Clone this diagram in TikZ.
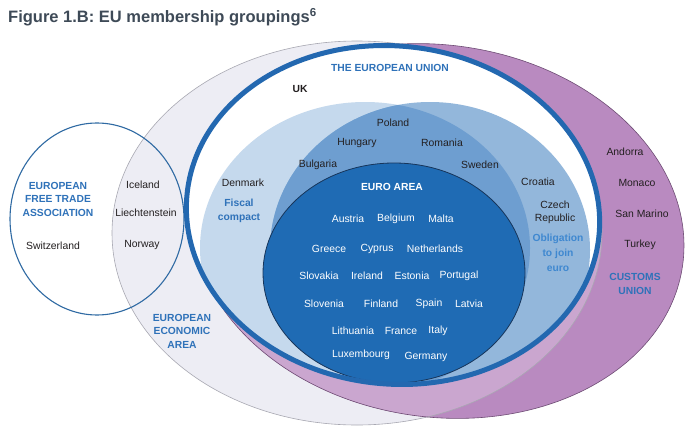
\documentclass[tikz,border=0pt]{standalone}
\usepackage{fontspec}
\setmainfont{Liberation Sans}
\usepackage{xcolor}
\definecolor{Title}{HTML}{3E4A57}
\definecolor{Ink}{HTML}{231F20}
\definecolor{EeaFill}{HTML}{EDEDF4}
\definecolor{EeaLine}{HTML}{A8A8B2}
\definecolor{CuFill}{HTML}{B98AC0}
\definecolor{CuLight}{HTML}{CAA6CF}
\definecolor{CuLine}{HTML}{6E4C74}
\definecolor{EftaLine}{HTML}{2F6AA3}
\definecolor{EuRing}{HTML}{2368B0}
\definecolor{FiscFill}{HTML}{C5D9ED}
\definecolor{ObligFill}{HTML}{93B7DB}
\definecolor{BothFill}{HTML}{6E9ED0}
\definecolor{EuroFill}{HTML}{1F6BB4}
\definecolor{EuroLine}{HTML}{17355A}
\definecolor{LabBlue}{HTML}{2F72B9}
\definecolor{LabLight}{HTML}{3F88D0}

\def\eeapath{(357,233) ellipse [x radius=245, y radius=192]}
\def\cupath{[rotate around={-8:(438,231)}] (438,231) ellipse [x radius=247, y radius=186]}
\def\eftapath{(97,219) ellipse [x radius=87, y radius=96]}
\def\eupath{[rotate around={-6:(393,215)}] (393,215) ellipse [x radius=207, y radius=169]}
\def\fiscpath{(365,248) ellipse [x radius=165, y radius=146]}
\def\obligpath{(430,250) ellipse [x radius=160, y radius=148]}
\def\europath{(394,273) ellipse [x radius=131, y radius=110]}

\begin{document}
\begin{tikzpicture}[x=1pt, y=-1pt, cty/.style={font=\fontsize{10.4}{12}\selectfont, text=Ink, inner sep=1pt}, ecty/.style={cty, text=white}, grp/.style={font=\bfseries\fontsize{10.3}{13.5}\selectfont, text=LabBlue, align=center, inner sep=1pt}]
\useasboundingbox[fill=white] (0,0) rectangle (695,428);
\node[anchor=base west, inner sep=0, text=Title, font=\bfseries\fontsize{16.5}{18}\selectfont] (title) at (8,23) {Figure 1.B: EU membership groupings\textsuperscript{6}};
\fill[EeaFill] \eeapath;
\fill[CuFill] \cupath;
\begin{scope} \clip \eeapath; \fill[CuLight] \cupath; \end{scope}
\draw[EeaLine, line width=0.6pt] \eeapath;
\draw[CuLine, line width=0.6pt] \cupath;
\draw[EftaLine, line width=1.1pt] \eftapath;
\fill[white] \eupath;
\begin{scope}
\clip \eupath;
\fill[FiscFill] \fiscpath;
\fill[ObligFill] \obligpath;
\begin{scope} \clip \fiscpath; \fill[BothFill] \obligpath; \end{scope}
\end{scope}
\filldraw[fill=EuroFill, draw=EuroLine, line width=0.8pt] \europath;
\draw[EuRing, line width=5pt] \eupath;
\node[grp] (efta) at (58,199) {EUROPEAN\\FREE TRADE\\ASSOCIATION};
\node[cty] (switz) at (53,246) {Switzerland};
\node[cty] (iceland) at (143,185) {Iceland};
\node[cty] (liecht) at (146,213) {Liechtenstein};
\node[cty] (norway) at (142,245) {Norway};
\node[grp] (eea) at (182,331) {EUROPEAN\\ECONOMIC\\AREA};
\node[grp] (eu) at (390,68) {THE EUROPEAN UNION};
\node[grp, text=Ink] (uk) at (300,89) {UK};
\node[cty] (poland) at (393,123) {Poland};
\node[cty] (hungary) at (357,143) {Hungary};
\node[cty] (romania) at (442,143) {Romania};
\node[cty] (bulgaria) at (318,165) {Bulgaria};
\node[cty] (sweden) at (480,165) {Sweden};
\node[cty] (denmark) at (243,183) {Denmark};
\node[grp, font=\bfseries\fontsize{10.3}{14}\selectfont] (fiscal) at (239,211) {Fiscal\\compact};
\node[cty] (croatia) at (538,182) {Croatia};
\node[cty, align=center, font=\fontsize{10.4}{13}\selectfont] (czech) at (555,212.5) {Czech\\Republic};
\node[grp, text=LabLight, font=\bfseries\fontsize{10.3}{15}\selectfont] (oblig) at (558,253) {Obligation\\to join\\euro};
\node[cty] (andorra) at (625,152) {Andorra};
\node[cty] (monaco) at (637,183) {Monaco};
\node[cty] (sanmarino) at (642,214) {San Marino};
\node[cty] (turkey) at (640,245) {Turkey};
\node[grp] (cu) at (635,284) {CUSTOMS\\UNION};
\node[grp, text=white] (euro) at (392,187) {EURO AREA};
\node[ecty] (austria) at (348,219) {Austria};
\node[ecty] (belgium) at (396,219) {Belgium};
\node[ecty] (malta) at (441,219) {Malta};
\node[ecty] (greece) at (329,249) {Greece};
\node[ecty] (cyprus) at (377,249) {Cyprus};
\node[ecty] (nether) at (435,249) {Netherlands};
\node[ecty] (slovakia) at (319,276) {Slovakia};
\node[ecty] (ireland) at (367,276) {Ireland};
\node[ecty] (estonia) at (412,276) {Estonia};
\node[ecty] (portugal) at (459,276) {Portugal};
\node[ecty] (slovenia) at (324,304) {Slovenia};
\node[ecty] (finland) at (381,304) {Finland};
\node[ecty] (spain) at (429,304) {Spain};
\node[ecty] (latvia) at (469,304) {Latvia};
\node[ecty] (lithuania) at (353,331) {Lithuania};
\node[ecty] (france) at (401,331) {France};
\node[ecty] (italy) at (438,331) {Italy};
\node[ecty] (luxem) at (361,355) {Luxembourg};
\node[ecty] (germany) at (426,357) {Germany};
\end{tikzpicture}
\end{document}
